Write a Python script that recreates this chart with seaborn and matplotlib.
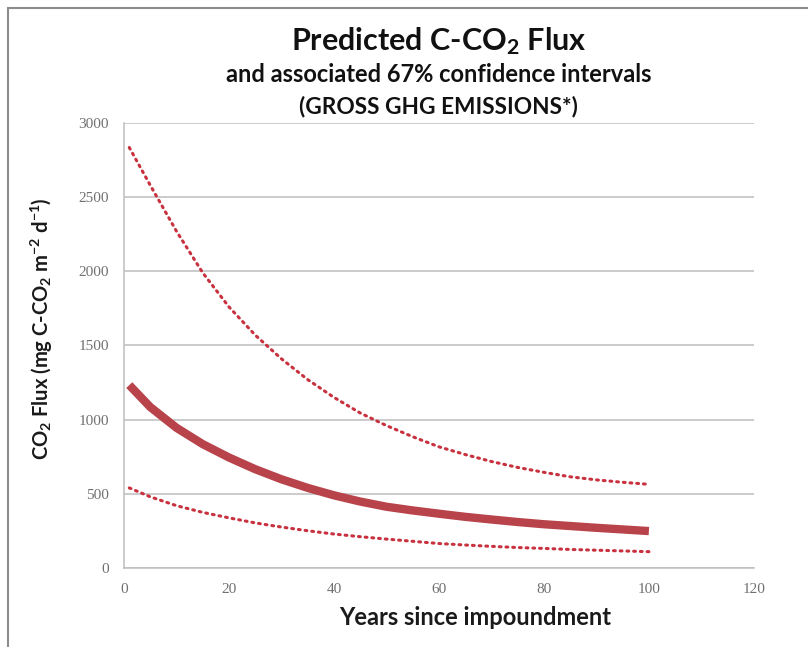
import matplotlib
matplotlib.use("Agg")
import matplotlib.pyplot as plt
import seaborn as sns
import pandas as pd
from matplotlib.patches import Rectangle

years = [1, 5, 10, 15, 20, 25, 30, 35, 40, 45, 50, 55, 60, 65, 70, 75, 80, 85, 90, 95, 100]
predicted = [1233, 1085, 945, 835, 745, 666, 598, 540, 490, 448, 413, 388, 366, 345, 327, 310, 295, 283, 271, 260, 249]
upper_ci = [2835, 2580, 2270, 1990, 1760, 1570, 1410, 1270, 1150, 1045, 960, 885, 817, 765, 718, 678, 645, 615, 594, 578, 564]
lower_ci = [540, 480, 420, 375, 338, 304, 276, 251, 229, 211, 195, 180, 165, 155, 146, 138, 132, 125, 120, 115, 110]

x_ticks = [0, 20, 40, 60, 80, 100, 120]
y_ticks = [0, 500, 1000, 1500, 2000, 2500, 3000]

df = pd.DataFrame({"year": years, "pred": predicted, "up": upper_ci, "lo": lower_ci})

sns.set_style("white")
plt.rcParams['font.family'] = ['Lato', 'DejaVu Sans']
plt.rcParams['mathtext.fontset'] = 'custom'
plt.rcParams['mathtext.rm'] = 'Lato:bold'
plt.rcParams['mathtext.it'] = 'Lato:bold'
plt.rcParams['mathtext.bf'] = 'Lato:bold'
plt.rcParams['axes.unicode_minus'] = False

fig = plt.figure(figsize=(8.08, 6.47), dpi=100)
ax = fig.add_axes([0.1535, 0.1221, 0.7795, 0.6878])

dot_color = "#C8323F"
sns.lineplot(data=df, x="year", y="up", ax=ax, color=dot_color, linewidth=2.2,
             linestyle=(0, (0.6, 1.6)), dash_capstyle="round")
sns.lineplot(data=df, x="year", y="lo", ax=ax, color=dot_color, linewidth=2.2,
             linestyle=(0, (0.6, 1.6)), dash_capstyle="round")
sns.lineplot(data=df, x="year", y="pred", ax=ax, color="#B8434A", linewidth=6.0,
             solid_capstyle="butt", solid_joinstyle="round")

ax.set_xlim(0, 120)
ax.set_ylim(0, 3000)
ax.set_xticks(x_ticks)
ax.set_yticks(y_ticks)
ax.set_xticklabels([str(t) for t in x_ticks], family="Liberation Serif", fontsize=11, color="#707070")
ax.set_yticklabels([str(t) for t in y_ticks], family="Liberation Serif", fontsize=11, color="#707070")
ax.yaxis.grid(True, color="#BDBDBD", linewidth=1.1)
ax.xaxis.grid(False)
for s in ["top", "right"]:
    ax.spines[s].set_visible(False)
for s in ["left", "bottom"]:
    ax.spines[s].set_color("#BDBDBD")
    ax.spines[s].set_linewidth(1.1)
ax.tick_params(axis="both", direction="out", length=5, width=1, color="#BDBDBD", pad=6)

ax.set_xlabel("Years since impoundment", fontsize=17, fontweight="bold", color="#1a1a1a")
ax.xaxis.set_label_coords(0.557, -0.085)
ax.set_ylabel("CO$_2$ Flux (mg C-CO$_2$ m$^{-2}$ d$^{-1}$)", fontsize=14.5, fontweight="bold", color="#1a1a1a")
ax.yaxis.set_label_coords(-0.11, 0.537)

fig.text(0.543, 0.937, "Predicted C-CO$_2$ Flux", ha="center", va="center", fontsize=22, fontweight="bold", color="#111111")
fig.text(0.543, 0.885, "and associated 67% confidence intervals", ha="center", va="center", fontsize=17, fontweight="bold", color="#111111")
fig.text(0.543, 0.836, "(GROSS GHG EMISSIONS*)", ha="center", va="center", fontsize=16.3, fontweight="bold", color="#111111")

fig.patches.append(Rectangle((8 / 808, -0.1), 1.2, 1.1 - 8 / 647, transform=fig.transFigure,
                             fill=False, edgecolor="#8c8c8c", linewidth=1.5))

fig.savefig("out.png", dpi=100)
